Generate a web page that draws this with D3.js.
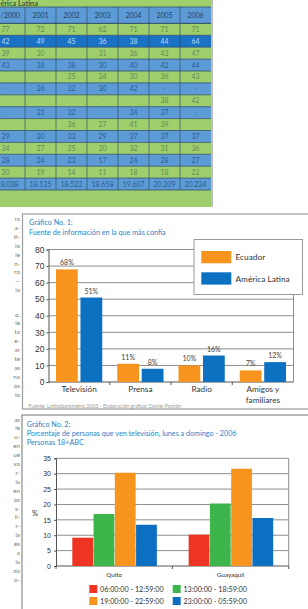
<!DOCTYPE html>
<html><head><meta charset="utf-8">
<script src="https://cdn.jsdelivr.net/npm/d3@7"></script>
<style>
html,body{margin:0;padding:0;background:#fff;overflow:hidden}
svg{display:block;font-family:Lato,"Open Sans",sans-serif}
</style></head><body>
<svg id="c" width="308" height="609"></svg>
<script>
// ---------- DATA ----------
const tableTitle = "érica Latina";
const tableYears = ["/2000","2001","2002","2003","2004","2005","2006"];
const tableRows = [
  ["77","72","71","62","71","71","71"],
  ["42","49","45","36","38","44","64"],
  ["39","30","","31","36","43","47"],
  ["43","38","38","30","40","42","44"],
  ["-","-","25","24","30","36","43"],
  ["-","36","32","30","42","-","-"],
  ["-","-","-","-","-","38","42"],
  ["-","31","32","","34","37","-"],
  ["-","-","36","27","41","39",""],
  ["29","30","33","29","37","37","37"],
  ["34","27","25","20","32","31","36"],
  ["28","24","23","17","24","28","27"],
  ["20","19","14","11","18","18","22"],
  ["8.038","18.135","18.522","18.658","19.607","20.209","20.234"]
];
const leftPara1 = ["ra","a-","ti-","io","le","n-","ro","—","ia"];
const leftPara2 = ["o.","le","ta","e-","ar","te","as","na","os","io"];
const leftPara3 = ["as","le","u-","en","ue","vo","r-","la","en","os","s-","li-","r-","la","és","a","la","da","o-"];

const c1Title = ["Gráfico No. 1:","Fuente de información en la que más confía"];
const c1Categories = ["Televisión","Prensa","Radio","Amigos y\nfamiliares"];
const c1Series = ["Ecuador","América Latina"];
const c1Ecuador = [68,11,10,7];
const c1AmericaLatina = [51,8,16,12];
const c1Ticks = [0,10,20,30,40,50,60,70,80];
const c1Source = "Fuente: Latinobarómetro 2003 - Elaboración gráfico: Daniel Pontón";

const c2Title = ["Gráfico No. 2:","Porcentaje de personas que ven televisión, lunes a domingo - 2006","Personas 18+ABC"];
const c2Cities = ["Quito","Guayaquil"];
const c2Slots = ["06:00:00 - 12:59:00","13:00:00 - 18:59:00","19:00:00 - 22:59:00","23:00:00 - 05:59:00"];
const c2Morning = [9.2,10.2];
const c2Afternoon = [16.9,20.3];
const c2Evening = [30.3,31.6];
const c2Night = [13.4,15.6];
const c2Ticks = [0,5,10,15,20,25,30,35];

// ---------- STYLE ----------
const GREEN="#9fcf6d", BLUE="#5d9bd6", DBLUE="#1a72c4", LINE="#2f4f68";
const TITLE="#2b83c8";
const svg = d3.select("#c");

// ---------- TABLE ----------
const colX = d3.scaleBand().domain(tableYears).range([-6,211]);
const rowY = d3.scaleBand().domain(d3.range(tableRows.length)).range([23.4,190]);
const tbl = svg.append("g");
tbl.append("rect").attr("x",0).attr("y",0).attr("width",211).attr("height",7).attr("fill",GREEN);
tbl.append("text").attr("x",0.5).attr("y",6).attr("text-anchor","start")
  .attr("font-size",7.3).attr("font-weight","bold").attr("fill","#3d5a3a").text(tableTitle);
tbl.append("rect").attr("x",0).attr("y",7).attr("width",211).attr("height",16.4).attr("fill",BLUE);
const cx = (k,i)=> i===0 ? colX(k)+colX.bandwidth()/2-4 : colX(k)+colX.bandwidth()/2;
tbl.selectAll(".yr").data(tableYears).join("text")
  .attr("x",(d,i)=>i===0?0.5:cx(d,i)).attr("y",18)
  .attr("text-anchor",(d,i)=>i===0?"start":"middle")
  .attr("font-size",7).attr("fill","#1f3f63").text(d=>d);
tableRows.forEach((row,r)=>{
  const fill = r===1?DBLUE:(r%2===0?GREEN:BLUE);
  const tc = r===1?"#b9d9f7":(r%2===0?"#5f8a52":"#2b5b93");
  tbl.append("rect").attr("x",0).attr("y",rowY(r)).attr("width",211).attr("height",rowY.bandwidth()).attr("fill",fill);
  tbl.selectAll(null).data(row).join("text")
    .attr("x",(d,i)=>(i===0 && d.length>3)?0.5:cx(tableYears[i],i))
    .attr("y",rowY(r)+rowY.bandwidth()/2+2.5)
    .attr("text-anchor",(d,i)=>(i===0 && d.length>3)?"start":"middle").attr("font-size",7)
    .attr("fill",d=>d==="-"?d3.color(tc).brighter(0.6):tc).text(d=>d);
});
tbl.append("rect").attr("x",0).attr("y",190).attr("width",211).attr("height",17).attr("fill",GREEN);
[7,23.4].concat(d3.range(tableRows.length+1).map(i=>rowY.range()[0]+i*rowY.step())).forEach(y=>{
  tbl.append("line").attr("x1",0).attr("x2",211).attr("y1",y).attr("y2",y).attr("stroke",LINE).attr("stroke-width",0.8);
});
tableYears.slice(1).forEach(k=>{
  tbl.append("line").attr("x1",colX(k)).attr("x2",colX(k)).attr("y1",7).attr("y2",190).attr("stroke",LINE).attr("stroke-width",0.7);
});
tbl.append("line").attr("x1",212).attr("x2",212).attr("y1",0).attr("y2",207).attr("stroke","#bdbdbd").attr("stroke-width",2);

// ---------- LEFT TEXT ----------
const lt = svg.append("g").attr("font-size",6.3).attr("fill","#7a7a7a").attr("text-anchor","end");
function para(lines,y0,dy){ lines.forEach((t,i)=>lt.append("text").attr("x",20).attr("y",y0+i*dy).text(t)); }
para(leftPara1,221,8.9);
para(leftPara2,316.5,8.9);
para(leftPara3,421.5,8.9);

// ---------- CHART 1 ----------
const g1 = svg.append("g");
g1.append("rect").attr("x",22.5).attr("y",214).attr("width",300).attr("height",195)
  .attr("fill","#fff").attr("stroke","#a3a3a3").attr("stroke-width",1.3);
c1Title.forEach((t,i)=>g1.append("text").attr("x",29).attr("y",225+i*10).attr("font-size",7.2).attr("fill",TITLE).text(t));
const x1 = d3.scaleBand().domain(c1Categories).range([48.5,293.5]);
const xs1 = d3.scaleBand().domain(c1Series).range([7.5,x1.bandwidth()-7.5]).paddingInner(0.11);
const y1 = d3.scaleLinear().domain([0,80]).range([382,249.5]);
c1Ticks.forEach(t=>g1.append("line").attr("x1",48.5).attr("x2",293.5).attr("y1",y1(t)).attr("y2",y1(t))
  .attr("stroke",t===0?"#555":"#8e8e8e").attr("stroke-width",1));
g1.append("line").attr("x1",293.5).attr("x2",293.5).attr("y1",y1(80)).attr("y2",y1(0)).attr("stroke","#8e8e8e");
const ax1 = g1.append("g").attr("transform","translate(48.5,0)")
  .call(d3.axisLeft(y1).tickValues(c1Ticks).tickSize(2).tickPadding(2));
ax1.select(".domain").attr("stroke","#555");
ax1.selectAll("line").attr("stroke","#555");
ax1.selectAll("text").attr("font-size",8.5).attr("font-family","Liberation Sans, Arial, sans-serif").attr("fill","#333");
x1.domain().slice(1).forEach(c=>g1.append("line").attr("x1",x1(c)).attr("x2",x1(c)).attr("y1",382).attr("y2",385).attr("stroke","#555"));
const c1Data = [c1Ecuador,c1AmericaLatina];
const c1Colors = ["#f7941e","#0d71c2"];
c1Data.forEach((vals,s)=>{
  g1.selectAll(null).data(vals).join("rect")
    .attr("x",(d,i)=>x1(c1Categories[i])+xs1(c1Series[s])).attr("y",d=>y1(d))
    .attr("width",xs1.bandwidth()).attr("height",d=>y1(0)-y1(d)).attr("fill",c1Colors[s]);
  g1.selectAll(null).data(vals).join("text")
    .attr("x",(d,i)=>x1(c1Categories[i])+xs1(c1Series[s])+xs1.bandwidth()/2).attr("y",d=>y1(d)-4)
    .attr("text-anchor","middle").attr("font-size",7).attr("fill","#444").text(d=>d+"%");
});
c1Categories.forEach(c=>{
  const t = g1.append("text").attr("text-anchor","middle").attr("font-size",8.2).attr("fill","#333");
  c.split("\n").forEach((line,j)=>t.append("tspan").attr("x",x1(c)+x1.bandwidth()/2).attr("y",392+j*10.5).text(line));
});
g1.append("text").attr("x",28.5).attr("y",407.5).attr("font-size",5.2).attr("fill","#9a9a9a").text(c1Source);
const lg1 = g1.append("g");
lg1.append("rect").attr("x",194).attr("y",239.5).attr("width",108.5).attr("height",55).attr("fill","#fff").attr("stroke","#9a9a9a");
c1Series.forEach((s,i)=>{
  lg1.append("rect").attr("x",201.3).attr("y",251+i*21.3).attr("width",30).attr("height",12.3).attr("fill",c1Colors[i]);
  lg1.append("text").attr("x",235.5).attr("y",260.3+i*21.3).attr("font-size",8.3).attr("fill","#333").text(s);
});

// ---------- CHART 2 ----------
const g2 = svg.append("g");
g2.append("rect").attr("x",22).attr("y",415).attr("width",300).attr("height",210)
  .attr("fill","#fff").attr("stroke","#8a8a8a").attr("stroke-width",1.2);
c2Title.forEach((t,i)=>g2.append("text").attr("x",26.7).attr("y",426.8+i*9.3).attr("font-size",7.2).attr("fill",TITLE).text(t));
const x2 = d3.scaleBand().domain(c2Cities).range([56,288.7]);
const xs2 = d3.scaleBand().domain(c2Slots).range([16.3,x2.bandwidth()-15]);
const y2 = d3.scaleLinear().domain([0,35]).range([566,458.3]);
c2Ticks.forEach(t=>g2.append("line").attr("x1",56).attr("x2",288.7).attr("y1",y2(t)).attr("y2",y2(t))
  .attr("stroke",t===0?"#555":"#8e8e8e"));
g2.append("line").attr("x1",288.7).attr("x2",288.7).attr("y1",y2(35)).attr("y2",y2(0)).attr("stroke","#8e8e8e");
const ax2 = g2.append("g").attr("transform","translate(56,0)")
  .call(d3.axisLeft(y2).tickValues(c2Ticks).tickSize(2).tickPadding(3));
ax2.select(".domain").attr("stroke","#555");
ax2.selectAll("line").attr("stroke","#555");
ax2.selectAll("text").attr("font-size",7).attr("fill","#333");
[x2.range()[0], x2("Guayaquil"), x2.range()[1]].forEach(x=>g2.append("line").attr("x1",x).attr("x2",x).attr("y1",566).attr("y2",569).attr("stroke","#555"));
g2.append("text").attr("x",35).attr("y",516).attr("text-anchor","middle").attr("font-size",7.5).attr("fill","#333").text("%");
const c2Data = [c2Morning,c2Afternoon,c2Evening,c2Night];
const c2Colors = ["#ee3524","#3db54a","#f7941e","#0d6fc1"];
c2Data.forEach((vals,s)=>{
  g2.selectAll(null).data(vals).join("rect")
    .attr("x",(d,i)=>x2(c2Cities[i])+xs2(c2Slots[s])).attr("y",d=>y2(d))
    .attr("width",xs2.bandwidth()-0.5).attr("height",d=>y2(0)-y2(d)).attr("fill",c2Colors[s]);
});
c2Cities.forEach(c=>g2.append("text").attr("x",x2(c)+x2.bandwidth()/2).attr("y",576.5)
  .attr("text-anchor","middle").attr("font-size",6.3).attr("fill","#333").text(c));
c2Slots.forEach((s,i)=>{
  const col=i%2, row=Math.floor(i/2);
  const lx = 89.3+col*83.4, ly = 585+row*12;
  g2.append("rect").attr("x",lx).attr("y",ly).attr("width",8).attr("height",8).attr("fill",c2Colors[i]);
  g2.append("text").attr("x",lx+10.7).attr("y",ly+7).attr("font-size",7.2).attr("fill","#333").text(s);
});
</script>
</body></html>
